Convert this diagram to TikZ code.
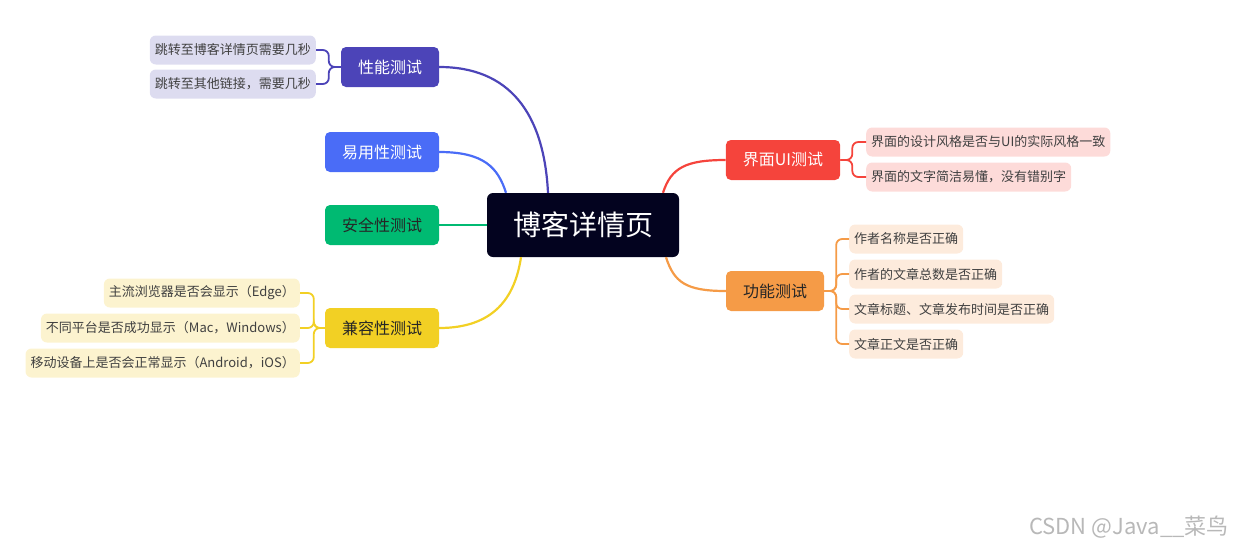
\documentclass[tikz,border=0pt]{standalone}
\usepackage{fontspec}
\newfontfamily\cjk{Noto Sans CJK SC}
\definecolor{hub}{HTML}{03031F}
\definecolor{perf}{HTML}{4C44B8}
\definecolor{perfL}{HTML}{DDDCF0}
\definecolor{easy}{HTML}{4A6CF7}
\definecolor{safe}{HTML}{00BA72}
\definecolor{comp}{HTML}{F2D024}
\definecolor{compL}{HTML}{FCF3CF}
\definecolor{ui}{HTML}{F5443C}
\definecolor{uiL}{HTML}{FDDBD9}
\definecolor{func}{HTML}{F59B47}
\definecolor{funcL}{HTML}{FDEBDC}
\begin{document}
\begin{tikzpicture}[x=1pt,y=-1pt,
  main/.style={rounded corners=5pt,inner xsep=17pt,minimum height=40pt,text=white,font=\cjk\fontsize{16}{18}\selectfont},
  leaf/.style={rounded corners=6pt,inner xsep=5pt,inner ysep=0pt,minimum height=29pt,text=black!75,font=\cjk\fontsize{13}{15}\selectfont},
  branch/.style={line width=2.2pt},
  brace/.style={line width=1.8pt,rounded corners=6pt}]
\useasboundingbox (0,0) rectangle (1236,547);
\node[fill=hub,rounded corners=6pt,minimum width=192pt,minimum height=64pt,text=white,font=\cjk\fontsize{28}{30}\selectfont] (c) at (583,225) {博客详情页};
\node[main,fill=perf] (p) at (390,67) {性能测试};
\node[main,fill=easy] (e) at (382,152) {易用性测试};
\node[main,fill=safe,text=black!85] (s) at (382,225) {安全性测试};
\node[main,fill=comp,text=black!85] (k) at (382,328) {兼容性测试};
\node[main,fill=ui] (u) at (783,160) {界面UI测试};
\node[main,fill=func,text=black!85] (f) at (775,291) {功能测试};
% branches
\draw[branch,perf] (p.east) .. controls +(70,0) and +(-4,-80) .. ([xshift=-35pt]c.north);
\draw[branch,easy] (e.east) .. controls +(45,0) and +(-8,-25) .. ([xshift=-77pt]c.north);
\draw[branch,safe] (s.east) -- (c.west);
\draw[branch,comp] (k.east) .. controls +(55,0) and +(-6,40) .. ([xshift=-62pt]c.south);
\draw[branch,ui] ([xshift=80pt]c.north) .. controls +(8,-25) and +(-40,0) .. (u.west);
\draw[branch,func] ([xshift=83pt]c.south) .. controls +(8,25) and +(-40,0) .. (f.west);
% leaves
\foreach \t [count=\i] in {跳转至博客详情页需要几秒,跳转至其他链接，需要几秒}{
  \node[leaf,fill=perfL,anchor=east] (p\i) at (316,16+34*\i) {\t};
  \draw[brace,perf] (p.west) -- ++(-12,0) |- (p\i.east);
}
\foreach \t [count=\i] in {主流浏览器是否会显示（Edge）,不同平台是否成功显示（Mac，Windows）,移动设备上是否会正常显示（Android，iOS）}{
  \node[leaf,fill=compL,anchor=east] (k\i) at (300,258+35*\i) {\t};
  \draw[brace,comp] (k.west) -- ++(-11,0) |- (k\i.east);
}
\foreach \t [count=\i] in {界面的设计风格是否与UI的实际风格一致,界面的文字简洁易懂，没有错别字}{
  \node[leaf,fill=uiL,anchor=west] (u\i) at (866,107+35*\i) {\t};
  \draw[brace,ui] (u.east) -- ++(12,0) |- (u\i.west);
}
\foreach \t [count=\i] in {作者名称是否正确,作者的文章总数是否正确,文章标题、文章发布时间是否正确,文章正文是否正确}{
  \node[leaf,fill=funcL,anchor=west] (f\i) at (849,204+35*\i) {\t};
  \draw[brace,func] (f.east) -- ++(12,0) |- (f\i.west);
}
\node[text=black!28,font=\cjk\fontsize{22}{24}\selectfont] (wm) at (1129,527) {CSDN @Java\_\_菜鸟};
\end{tikzpicture}
\end{document}
